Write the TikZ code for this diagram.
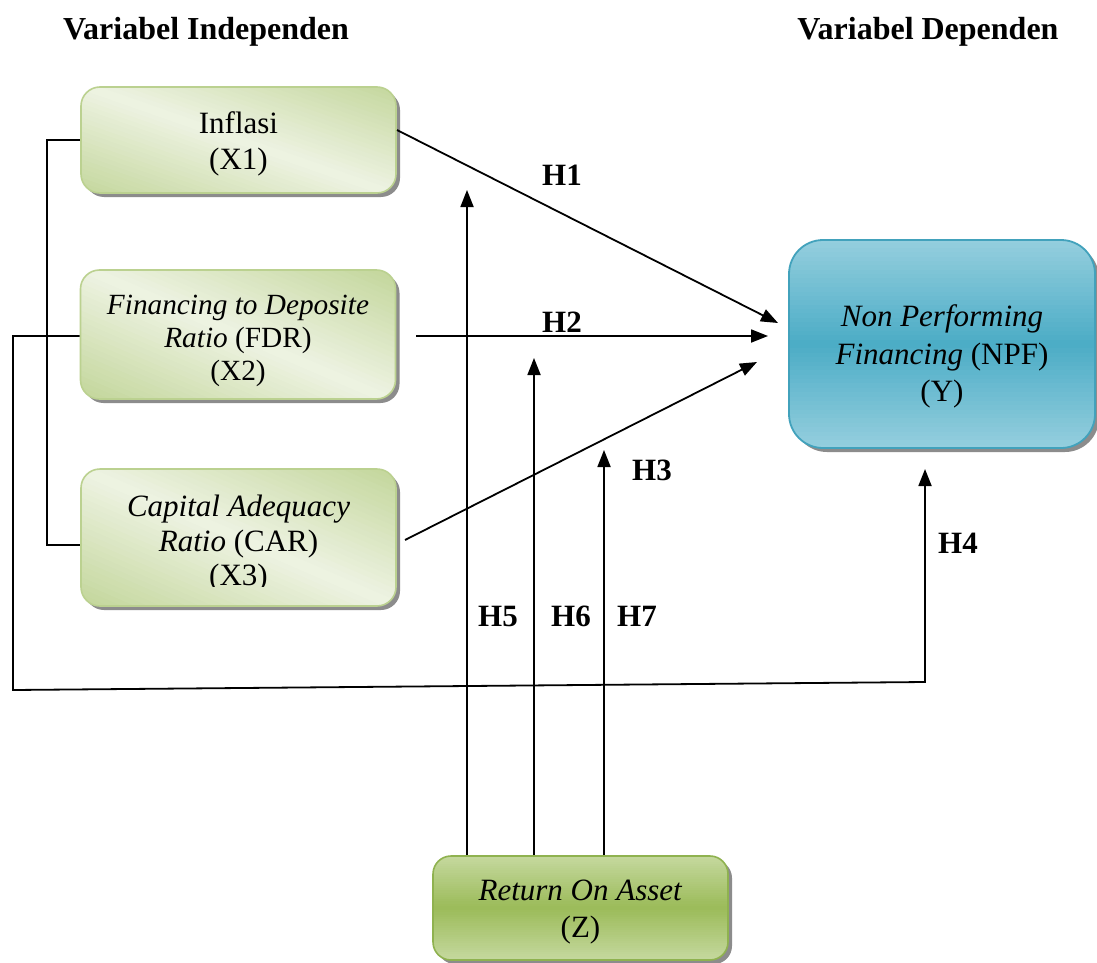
\documentclass[tikz,border=0pt]{standalone}
\usepackage{fontspec}
\setmainfont{Liberation Serif}
\usetikzlibrary{arrows.meta,calc}
\definecolor{gdark}{HTML}{C3D69B}
\definecolor{glight}{HTML}{EEF3E3}
\definecolor{gedge}{HTML}{BBD190}
\definecolor{rmid}{HTML}{9BBB59}
\definecolor{rlight}{HTML}{C6D9A0}
\definecolor{redge}{HTML}{8FB24F}
\definecolor{bmid}{HTML}{4BACC6}
\definecolor{blight}{HTML}{96CFDE}
\definecolor{bedge}{HTML}{42A2BC}
\definecolor{shad}{HTML}{8C8C8C}
% gradient fill of a rounded rectangle: cx cy w h radius angle halfrange edgecolour centrecolour
\newcommand{\gradfill}[9]{%
  \begin{scope}
  \clip[rounded corners=#5] ({#1-#3/2},{#2-#4/2}) rectangle ({#1+#3/2},{#2+#4/2});
  \begin{scope}[shift={(#1,#2)}, rotate=#6]
  \foreach \k in {0,...,47}{%
    \pgfmathsetmacro{\ua}{-#7+2*#7*\k/48}%
    \pgfmathsetmacro{\ub}{\ua+2*#7/48+0.8}%
    \pgfmathsetmacro{\pc}{abs((\k+0.5)/24-1)*100}%
    \fill[#8!\pc!#9] (\ua,-500) rectangle (\ub,500);
  }
  \end{scope}
  \end{scope}}
\newcommand{\shadowbox}[5]{%
  \fill[shad, rounded corners=#5] ({#1-#3/2+4},{#2-#4/2+4}) rectangle ({#1+#3/2+4},{#2+#4/2+4});}
\tikzset{
  xtxt/.style={font=\fontsize{31}{36}\selectfont, align=center, inner sep=0pt},
  xbox/.style={rounded corners=19pt, draw=gedge, line width=1.6pt, inner sep=0pt, minimum width=315pt},
  roabox/.style={rounded corners=18pt, draw=redge, line width=1.6pt, inner sep=0pt, minimum width=295pt, minimum height=104pt},
  npfbox/.style={rounded corners=34pt, draw=bedge, line width=1.8pt, inner sep=0pt, minimum width=306pt, minimum height=208pt},
  conn/.style={line width=1.8pt, black},
  arr/.style={conn, -{Triangle[length=17pt,width=13pt]}},
  hlab/.style={font=\fontsize{31}{36}\selectfont\bfseries, anchor=base, inner sep=0pt},
  head/.style={font=\fontsize{32}{36}\selectfont\bfseries, anchor=base, inner sep=0pt}
}
\begin{document}
\begin{tikzpicture}[x=1pt,y=-1pt]
\useasboundingbox (0,0) rectangle (1097,963);
\fill[white] (0,0) rectangle (1097,963);

\node[head] (hi) at (206,40) {Variabel Independen};
\node[head] (hd) at (928,40) {Variabel Dependen};

% Inflasi box
\shadowbox{238.5}{140}{315}{106}{19pt}
\gradfill{238.5}{140}{315}{106}{19pt}{70.7}{105}{gdark}{glight}
\node[xbox, minimum height=106pt] (inf) at (238.5,140) {};
\node[xtxt] (inft) at (238.5,144.2) {Inflasi\\(X1)};

% FDR box
\shadowbox{238}{334.5}{315}{129}{19pt}
\gradfill{238}{334.5}{315}{129}{19pt}{66.7}{120}{gdark}{glight}
\node[xbox, minimum height=129pt] (fdr) at (238,334.5) {};
\node[xtxt, font=\fontsize{29.3}{33}\selectfont] (fdrt) at (238,341) {\textit{Financing to Deposite}\\\textit{Ratio} (FDR)\\(X2)};

% CAR box
\shadowbox{238.5}{537.5}{315}{137}{19pt}
\gradfill{238.5}{537.5}{315}{137}{19pt}{66.5}{125}{gdark}{glight}
\node[xbox, minimum height=137pt] (car) at (238.5,537.5) {};
\begin{scope}
\clip (82,470) rectangle (395,586);
\node[xtxt, font=\fontsize{31}{34.5}\selectfont] (cart) at (238.5,543.6) {\textit{Capital Adequacy}\\\textit{Ratio} (CAR)\\(X3)};
\end{scope}

% NPF box
\shadowbox{942}{344}{306}{208}{34pt}
\gradfill{942}{344}{306}{208}{34pt}{90}{105}{blight}{bmid}
\node[npfbox] (npf) at (942,344) {};
\node[xtxt, font=\fontsize{31}{37.5}\selectfont] (npft) at (942,356.5) {\textit{Non Performing}\\\textit{Financing} (NPF)\\(Y)};

% ROA box
\shadowbox{580.5}{908}{295}{104}{18pt}
\gradfill{580.5}{908}{295}{104}{18pt}{90}{53}{rlight}{rmid}
\node[roabox] (roa) at (580.5,908) {};
\node[xtxt, font=\fontsize{31}{37}\selectfont] (roat) at (580.5,912) {\textit{Return On Asset}\\(Z)};

% coordinates
\coordinate (s1) at (397,130);
\coordinate (t1) at (778,323);
\coordinate (s2) at (416,336);
\coordinate (t2) at (768,336);
\coordinate (s3) at (405,540);
\coordinate (t3) at (757,362);
\coordinate (m5) at (467,190);
\coordinate (m6) at (534,358);
\coordinate (m7) at (604,450);
\coordinate (t4) at (925,469);
\coordinate (c1) at (13,690);
\coordinate (c2) at (925,682);

\draw[arr] (s1) -- (t1);
\draw[arr] (s2) -- (t2);
\draw[arr] (s3) -- (t3);

\draw[arr] (roa.north -| m5) -- (m5);
\draw[arr] (roa.north -| m6) -- (m6);
\draw[arr] (roa.north -| m7) -- (m7);

% bracket
\draw[conn] (inf.west) -- (47,140) -- (47,545) -- (car.west |- 0,545);
% H4 path
\draw[arr] (fdr.west |- 0,336) -- (13,336) -- (c1) -- (c2) -- (t4);

\node[hlab] (h1) at (562,185) {H1};
\node[hlab] (h2) at (562,332) {H2};
\node[hlab] (h3) at (652,480) {H3};
\node[hlab] (h4) at (958,553) {H4};
\node[hlab] (h5) at (498,626) {H5};
\node[hlab] (h6) at (571,626) {H6};
\node[hlab] (h7) at (637,626) {H7};
\end{tikzpicture}
\end{document}
